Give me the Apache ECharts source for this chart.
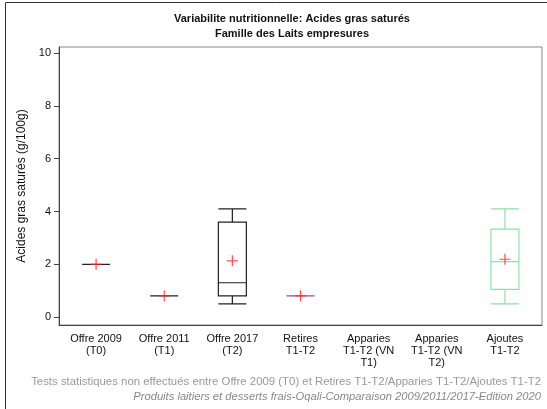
<!DOCTYPE html>
<html><head><meta charset="utf-8">
<script src="https://cdn.jsdelivr.net/npm/echarts@6/dist/echarts.min.js"></script>
<style>html,body{margin:0;padding:0;background:#fff}#c{width:547px;height:409px}</style>
</head><body><div id="c"></div>
<script>
const categories = ['Offre 2009\n(T0)', 'Offre 2011\n(T1)', 'Offre 2017\n(T2)', 'Retires\nT1-T2', 'Apparies\nT1-T2 (VN\nT1)', 'Apparies\nT1-T2 (VN\nT2)', 'Ajoutes\nT1-T2'];
// [min, Q1, median, Q3, max]
const boxValues = [
  [2.0, 2.0, 2.0, 2.0, 2.0],
  [0.8, 0.8, 0.8, 0.8, 0.8],
  [0.5, 0.8, 1.3, 3.6, 4.1],
  [0.8, 0.8, 0.8, 0.8, 0.8],
  null,
  null,
  [0.5, 1.05, 2.1, 3.33, 4.1]
];
const meanValues = [2.0, 0.8, 2.13, 0.8, null, null, 2.19];
const boxColors = ['#222222', '#222222', '#222222', '#a040b0', '#222222', '#222222', '#90e0a8'];
const yTicks = [0, 2, 4, 6, 8, 10];

const chart = echarts.init(document.getElementById('c'));
const font = 'Liberation Sans, Arial, sans-serif';
chart.setOption({
  animation: false,
  title: {
    text: 'Variabilite nutritionnelle: Acides gras saturés\nFamille des Laits empresures',
    left: 287, top: 6, textAlign: 'center',
    textStyle: { fontFamily: font, fontSize: 11, fontWeight: 'bold', color: '#111', lineHeight: 15 }
  },
  grid: [
    { left: 59, top: 47, right: 5, bottom: 84, show: true, borderColor: '#888', borderWidth: 1, backgroundColor: 'transparent' },
    { left: 62, top: 47, right: 8, bottom: 84 }
  ],
  xAxis: [
    {
      gridIndex: 0, type: 'category', data: categories,
      axisLine: { onZero: false, lineStyle: { color: '#444', width: 1 } },
      axisTick: { show: false }, axisLabel: { show: false }
    },
    {
      gridIndex: 1, type: 'category', data: categories, boundaryGap: true,
      axisLine: { show: false, onZero: false },
      axisTick: { alignWithLabel: true, length: 5, lineStyle: { color: '#444' } },
      axisLabel: { fontFamily: font, fontSize: 11, color: '#111', lineHeight: 12, margin: 8, interval: 0 }
    }
  ],
  yAxis: [
    {
      gridIndex: 0, type: 'value', min: -0.3, max: 10.23,
      name: 'Acides gras saturés (g/100g)', nameLocation: 'middle', nameGap: 30,
      nameTextStyle: { fontFamily: font, fontSize: 12, color: '#111' },
      splitLine: { show: false },
      axisLine: { show: true, lineStyle: { color: '#444' } },
      axisTick: { show: true, length: 5, customValues: yTicks, lineStyle: { color: '#444' } },
      axisLabel: { fontFamily: font, fontSize: 11, color: '#111', margin: 8, customValues: yTicks }
    },
    {
      gridIndex: 1, type: 'value', min: -0.3, max: 10.23, show: false, splitLine: { show: false }
    }
  ],
  series: [
    {
      type: 'boxplot', xAxisIndex: 1, yAxisIndex: 1, boxWidth: [28, 28],
      data: boxValues.map((v, i) => v ? { value: v, itemStyle: { color: 'transparent', borderColor: boxColors[i], borderWidth: 1.2 } } : '-')
    },
    {
      type: 'scatter', xAxisIndex: 1, yAxisIndex: 1,
      symbol: 'path://M0,5L10,5M5,0L5,10', symbolSize: 11,
      itemStyle: { color: 'transparent', borderColor: '#ff2020', borderWidth: 1.2 },
      data: meanValues.map(v => v === null ? '-' : v)
    }
  ],
  graphic: [
    { type: 'line', shape: { x1: 5.5, y1: 2.5, x2: 547, y2: 2.5 }, style: { stroke: '#333', lineWidth: 1 } },
    { type: 'line', shape: { x1: 5.5, y1: 2.5, x2: 5.5, y2: 409 }, style: { stroke: '#333', lineWidth: 1 } },
    { type: 'text', right: 6, top: 376, style: { text: 'Tests statistiques non effectués entre Offre 2009 (T0) et Retires T1-T2/Apparies T1-T2/Ajoutes T1-T2', font: '11.4px ' + font, fill: '#999' } },
    { type: 'text', right: 6, top: 391, style: { text: 'Produits laitiers et desserts frais-Oqali-Comparaison 2009/2011/2017-Edition 2020', font: 'italic 11.2px ' + font, fill: '#888' } }
  ]
});
</script></body></html>
